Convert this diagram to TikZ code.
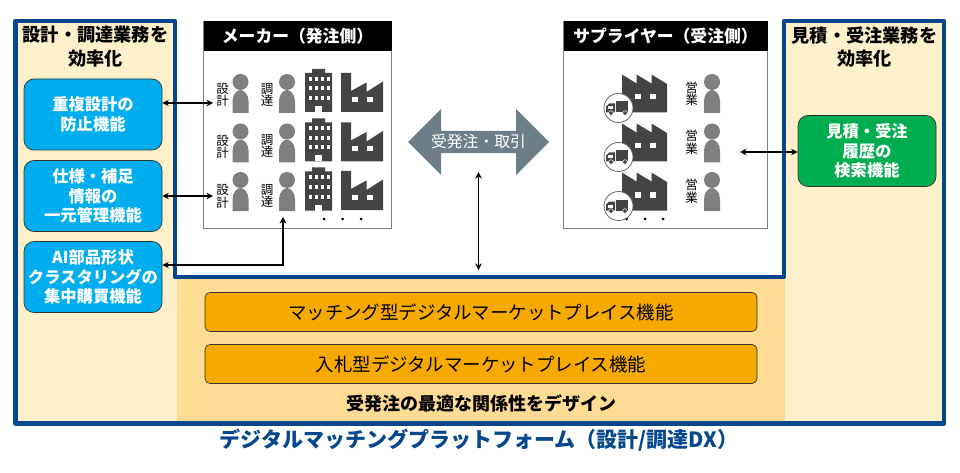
\documentclass[tikz,border=0pt]{standalone}
\usepackage{fontspec}
\setmainfont{Noto Sans CJK JP}
\usepackage{xcolor}
\usepackage{tikz}
\usetikzlibrary{shapes.arrows, arrows.meta, positioning}

\definecolor{framec}{HTML}{04478C}
\definecolor{creamc}{HTML}{FFF0CC}
\definecolor{sandc}{HTML}{FFDC94}
\definecolor{skyc}{HTML}{00AEEF}
\definecolor{greenc}{HTML}{00AE50}
\definecolor{orangec}{HTML}{F6AA00}
\definecolor{slatec}{HTML}{6C7E88}
\definecolor{iconc}{HTML}{444444}
\definecolor{personc}{HTML}{7F7F7F}

\begin{document}
\begin{tikzpicture}[
    x=1pt, y=-1pt,
    base/.style={draw=black!80, rounded corners=10pt, align=center, line width=0.7pt, inner sep=0pt},
    funcbox/.style={base, fill=skyc, minimum width=138pt, minimum height=71pt, text=white, font=\fontsize{16.3}{19.5}\selectfont\bfseries},
    quotebox/.style={funcbox, fill=greenc},
    marketbox/.style={base, rounded corners=5pt, fill=orangec, minimum width=552pt, minimum height=39pt, font=\fontsize{18.4}{20}\selectfont},
    sidebox/.style={draw=black!50, line width=0.8pt, fill=white, minimum height=207pt, inner sep=0pt},
    headbox/.style={fill=black, text=white, minimum height=30pt, inner sep=0pt, font=\fontsize{16.8}{20}\selectfont\bfseries},
    sidetitle/.style={align=center, inner sep=0pt, font=\fontsize{18.2}{23.5}\selectfont\bfseries},
    rolelabel/.style={align=center, inner sep=0pt, font=\fontsize{12.5}{12.5}\selectfont},
    dotnode/.style={circle, fill=black, minimum size=3pt, inner sep=0pt},
    arrow/.style={line width=1.2pt, black, {Stealth[length=6.5pt,width=6.5pt]}-{Stealth[length=6.5pt,width=6.5pt]}},
    person/.pic={
        \fill[personc] (0,0) circle (8);
        \fill[personc] (-8,31) -- (-8,19) .. controls (-8,12) and (-3,8) .. (0,8) .. controls (3,8) and (8,12) .. (8,19) -- (8,31) -- cycle;
    },
    building/.pic={
        \fill[iconc] (0,4) -- (7,4) -- (7,0) -- (20,0) -- (20,4) -- (27,4) -- (27,43) -- (0,43) -- cycle;
        \fill[white] (10,37) rectangle (17,43);
        \foreach \wy in {8,17.5,27}
            \foreach \wx in {4,10,16,21.5}
                \fill[white] (\wx,\wy) rectangle +(3,4);
    },
    factory/.pic={
        \fill[iconc] (0,0) -- (10,0) -- (10,18) -- (25.5,9.5) -- (25.5,19) -- (42,8.5) -- (42,39) -- (0,39) -- cycle;
        \fill[white] (11,24) rectangle +(5.5,5);
        \fill[white] (26,24) rectangle +(5.5,5);
    },
    delivery/.pic={
        \fill[iconc] (0,0) -- (14.5,9) -- (14.5,0) -- (29.5,9) -- (29.5,0) -- (45,9.5) -- (45,38) -- (0,38) -- cycle;
        \fill[white] (12.5,19.5) rectangle +(6,5.5);
        \fill[white] (27.5,19.5) rectangle +(6,5.5);
        \filldraw[fill=white, draw=black!60, line width=0.8pt] (-3.5,33.5) circle (14.5);
        \fill[iconc] (-6,27) rectangle (6,38);
        \fill[iconc] (-16,38) -- (-16,32) -- (-13,29) -- (-7,29) -- (-7,38) -- cycle;
        \fill[white] (-14,32) rectangle (-9,35);
        \filldraw[fill=iconc, draw=white, line width=0.5pt] (-11,38.5) circle (2.3);
        \filldraw[fill=iconc, draw=white, line width=0.5pt] (3,38.5) circle (2.3);
    }
]
    \useasboundingbox (0,0) rectangle (960,473);

    % --- Platform frame ---
    \fill[creamc] (15,21) -- (175,21) -- (175,277) -- (784,277) -- (784,21) -- (944,21) -- (944,423) -- (15,423) -- cycle;
    \fill[sandc] (177,277) rectangle (785,422);
    \draw[framec, line width=4.5pt, line join=round] (15.5,21) -- (175,21) -- (175,277) -- (784,277) -- (784,21) -- (944,21) -- (944,423.5) -- (15.5,423.5) -- cycle;

    % --- Side panels ---
    \node[sidetitle] (lefttitle) at (95.5,46.5) {設計・調達業務を\\効率化};
    \node[sidetitle] (righttitle) at (864.5,47) {見積・受注業務を\\効率化};

    \node[funcbox] (dup) at (93,114.5) {重複設計の\\防止機能};
    \node[funcbox] (spec) at (93,196) {仕様・補足\\情報の\\一元管理機能};
    \node[funcbox] (ai) at (93,277) {AI部品形状\\クラスタリングの\\集中購買機能};
    \node[quotebox] (quote) at (867,151) {見積・受注\\履歴の\\検索機能};

    % --- Maker ---
    \node[sidebox, minimum width=188pt] (maker) at (297.5,124.5) {};
    \node[headbox, minimum width=188pt, anchor=north] (makerhead) at (maker.north) {メーカー（発注側）};

    \node[rolelabel] (design1) at (222.5,95) {設\\計};
    \node[rolelabel] (design2) at (222.5,147) {設\\計};
    \node[rolelabel] (design3) at (222.5,196.5) {設\\計};
    \node[rolelabel] (buyer1) at (267,95) {調\\達};
    \node[rolelabel] (buyer2) at (267,146) {調\\達};
    \node[rolelabel] (buyer3) at (267,196) {調\\達};

    \pic at (240.5,82) {person};
    \pic at (287,82) {person};
    \pic at (305,69) {building};
    \pic at (341,73) {factory};

    \pic at (240.5,131.5) {person};
    \pic at (287,131.5) {person};
    \pic at (305,118.5) {building};
    \pic at (341,122.5) {factory};

    \pic at (240.5,180) {person};
    \pic at (287,180) {person};
    \pic at (305,167.5) {building};
    \pic at (341,171) {factory};

    \node[dotnode] (mdot1) at (324,219) {};
    \node[dotnode] (mdot2) at (342.5,219) {};
    \node[dotnode] (mdot3) at (361,219) {};

    % --- Supplier ---
    \node[sidebox, minimum width=204pt] (supplier) at (665.5,124.5) {};
    \node[headbox, minimum width=204pt, anchor=north] (supplierhead) at (supplier.north) {サプライヤー（受注側）};

    \node[dotnode] (sdot1) at (626.5,219) {};
    \node[dotnode] (sdot2) at (645,219) {};
    \node[dotnode] (sdot3) at (663,219) {};

    \node[rolelabel] (sales1) at (691.5,93.5) {営\\業};
    \node[rolelabel] (sales2) at (691.5,142) {営\\業};
    \node[rolelabel] (sales3) at (691.5,191) {営\\業};

    \pic at (622,74.5) {delivery};
    \pic at (622,123.5) {delivery};
    \pic at (622,172.5) {delivery};

    \pic at (712,82) {person};
    \pic at (712,131.5) {person};
    \pic at (712,180) {person};

    % --- Trade arrow ---
    \node[double arrow, fill=slatec, text=white, minimum height=141pt, minimum width=66pt,
          double arrow head extend=15pt, inner sep=0pt, font=\fontsize{15.8}{18}\selectfont] (trade) at (478.5,142) {受発注・取引};

    % --- Market functions ---
    \node[marketbox] (matching) at (481,312) {マッチング型デジタルマーケットプレイス機能};
    \node[marketbox] (bidding) at (481,364) {入札型デジタルマーケットプレイス機能};
    \node[inner sep=0pt, font=\fontsize{18}{20}\selectfont\bfseries] (design) at (481,403) {受発注の最適な関係性をデザイン};
    \node[inner sep=0pt, text=framec, font=\fontsize{21}{24}\selectfont\bfseries] (platform) at (479,440.5) {デジタルマッチングプラットフォーム（設計/調達DX）};

    % --- Edges ---
    \coordinate (makerdesign1) at (213,103);
    \coordinate (makerdesign3) at (213,196);
    \coordinate (makerbuyer) at (283,217);
    \coordinate (aiout) at (ai.east |- 0,265);
    \coordinate (supplierside) at (740,152);
    \coordinate (tradetop) at (478.5,172);
    \coordinate (tradebottom) at (478.5,270);

    \draw[arrow] (dup.east |- makerdesign1) -- (makerdesign1);
    \draw[arrow] (spec.east) -- (makerdesign3);
    \draw[arrow] (aiout) -| (makerbuyer);
    \draw[arrow] (supplierside) -- (quote.west |- supplierside);
    \draw[arrow] (tradetop) -- (tradebottom);

\end{tikzpicture}
\end{document}
